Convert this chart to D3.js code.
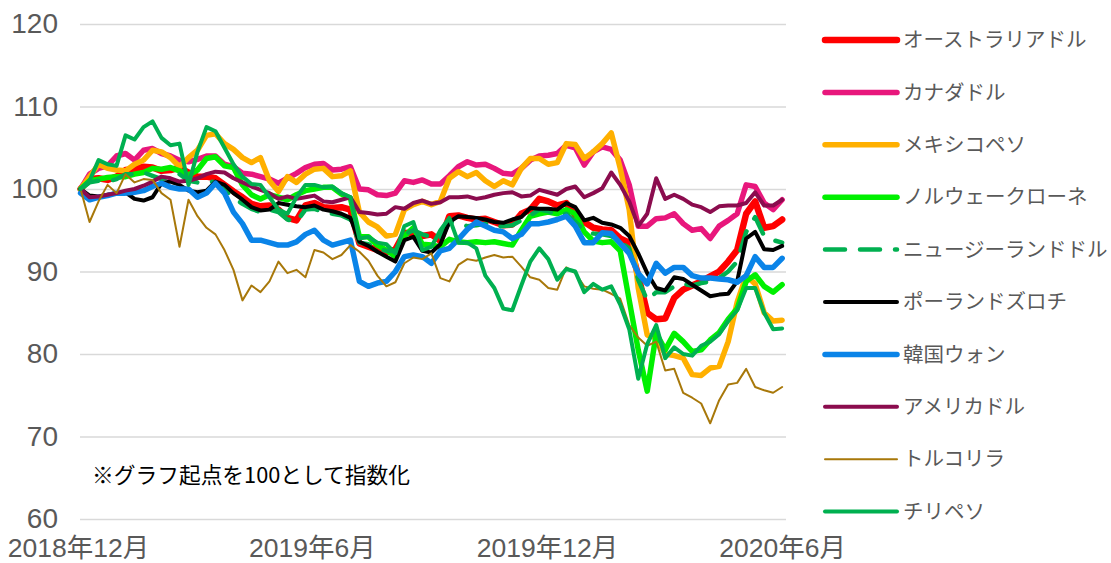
<!DOCTYPE html>
<html>
<head>
<meta charset="utf-8">
<script src="https://cdn.jsdelivr.net/npm/d3@7"></script>
<style>
  body { margin: 0; background: #fff; }
  svg { display: block; }
</style>
</head>
<body>
<svg id="chart" width="1111" height="563"></svg>
<script>
// weekly observations, starting 2018-12-03
var startDate = new Date(2018, 11, 3);
var nWeeks = 79;

// series values (index, start = 100)
var aud = [100,101.2,101.3,101.1,101.5,102.3,102.4,102.7,102.6,102.2,102.3,102.6,102,101.5,101.5,101.3,100.5,99.7,99,98.2,
  97.9,98,97.5,96.5,96.2,98,98.3,97.8,97.7,97.8,97.5,93.4,93,92.6,92.3,92.7,94.7,94.6,94.3,94.5,
  93.7,96.7,96.8,96.5,96.3,96.4,96,95.6,95.7,97,97.5,98.8,98.5,98,98.3,96.8,96,95.3,95.1,95,
  94,93.5,89.5,85,84.2,84.3,86.8,87.8,88.3,88.8,89.4,90,91.2,92.6,97,98.5,95.3,95.5,96.3];
var cad = [100,101.8,102.5,102.8,104,104.3,103.5,104.7,104.9,104.3,104,103.5,103.3,103.6,104,104,103,102.7,101.9,101.8,
  101.5,101.2,100.7,101.3,101.9,102.6,103,103.1,102.3,102.4,102.7,100,99.9,99.3,99.2,99.5,101,100.8,101.1,100.6,
  100.6,101.6,102.7,103.3,102.9,103,102.5,101.9,101.8,102.5,103.5,104,104.1,104.3,105.3,105,102.9,104.5,105.1,104.8,
  103.5,100.5,95.5,95.5,96.4,96.5,97,95.8,95,95.2,94,95.5,96.2,97,100.5,100.3,98.3,97.5,98.7];
var mxn = [100,101.5,103,102.5,102.3,102.2,103,103.5,104.7,104.5,103.8,102.7,103.8,104.7,106.5,106.7,105.5,104.8,103.8,103.2,
  103.8,101,99.7,101.5,100.8,101.8,102.4,102.5,101.5,101.6,102.2,97.2,96,95.4,94.3,94.5,97.5,98.1,98.5,98.1,
  98.5,101.3,102.1,101.5,102,101,100.3,101,100.5,102.5,103.7,103.7,103,103.2,105.5,105.4,103.7,104.5,105.5,106.8,
  102.5,97.5,88,82.3,82,80,79.8,79.5,77.5,77.4,78.3,78.5,81.5,86.3,89.5,88.5,85,84,84.1];
var nok = [100,101,101.2,101.4,101.5,101.5,101.8,102,102.5,102.4,102.6,102.2,101.7,102.3,103.7,103.9,102.8,102.6,100.5,99.3,
  98.8,99.3,99,98.7,99.3,99.8,100,100.2,100.2,99.4,98.9,94.2,94.2,93.2,92.6,91.8,94.3,95.3,93.3,93.2,
  93,93.9,93.6,93.5,93.6,93.5,93.6,93.4,93.2,95,96.7,97,97.2,97,97.5,97,94.8,93.7,93.5,93.6,
  92.5,86.5,80.5,75.5,82.5,80.5,82.5,81.5,80.3,80.5,81.7,82.6,84.2,85.5,88.8,89.6,88.2,87.5,88.4];
var nzd = [100,100.8,101,100.9,101.2,101.8,101.8,102,101.6,101.2,101.5,101.8,101,100.8,101,100.8,100,99,98.2,97.6,
  97.2,97.5,97.2,96.3,96,97.5,97.6,97.2,97,96.8,96.3,93.5,93.3,92.8,92.5,92.5,94.5,95,94.5,94.2,
  94,96,95.8,95.5,95.6,95.8,95.4,95.5,95.6,96.2,96.8,97.5,97.3,96.8,97,96,95,94.6,94.5,94.3,
  93.6,92.8,89,86.5,87.5,87.5,88.2,88.5,88.3,88.6,88.8,89.2,90,91.2,94.8,96.6,94.3,93.8,93.5];
var pln = [100,99.2,99.1,99.3,99.5,99.6,98.8,98.6,99,100.7,100.9,100.5,99.8,99.6,99.8,100.9,100.5,99.5,98.7,97.8,
  97.4,97.5,98.3,98.1,97.9,97.8,98,97.5,97.3,97,96.5,93.6,93.1,92.4,91.8,91.2,93.8,94.2,92.5,92.3,
  93.3,96,96.7,96.6,96.5,96.3,96,95.9,96.3,96.6,97.7,97.6,97.6,97.5,98.3,97.8,96.2,96.5,95.9,95.7,
  95.3,94.3,92.2,89.8,88,87.7,89.3,89.1,88.4,87.7,87,87.2,87.3,88.8,94,94.8,92.7,92.6,93.1];
var krw = [99.5,98.7,99,99.2,99.5,99.5,99.6,99.8,100.3,100.7,100.2,100,100,99,99.5,100.7,99.5,97.2,95.8,93.8,
  93.8,93.5,93.2,93.2,93.6,94.5,95,93.8,93.2,93.5,93.8,88.8,88.2,88.6,88.8,90,91.8,92,91.8,91,
  92.5,92.8,93.9,95.1,96,95.5,95,94.8,94,94.5,95.8,95.8,96,96.3,96.7,95.5,93.5,93.5,94.7,94.6,
  93.4,92.2,89.8,88.5,91,89.8,90.5,90.5,89.5,89.2,89.2,89.1,89,88.7,89.5,91.8,90.5,90.5,91.6];
var usd = [100,99,99.1,99.3,99.5,99.8,100,100.4,100.9,101.5,101.3,100.9,101,101.3,101.8,102.1,102,101.3,100.8,100.3,
  99.9,99.5,98.8,99.1,98.8,99,99.2,98.5,98.4,98.7,99,97.2,97.1,96.9,97,97.8,97.6,98.3,98.6,98.2,
  98.4,99,99,99.1,98.8,99,99.3,99.5,99.6,99.1,99.2,99.9,99.6,99.3,100,100.3,99,99.5,100.1,102,
  100.5,98.5,95.5,97,101.3,98.8,99.3,98.8,98.1,97.8,97.2,97.9,98,98,98.3,99.6,98,98,98.7];
var tryl = [100,96,98.5,100.5,99.5,101.8,100.8,101.2,101.1,99.5,98.7,93,98.7,96.7,95.3,94.5,92.6,90.2,86.5,88.3,
  87.5,88.8,91.2,89.8,90.2,89.3,92.6,92.3,91.5,92,93.2,92.4,91.3,89.5,88.2,88.7,91,91.7,91.5,92.2,
  89.2,88.8,90.8,91.5,91.3,91.7,92,91.7,91.8,90.6,89.3,89,88,87.8,90.5,89.8,88.2,87.9,87.8,87.3,
  86.7,83.5,82,81,81.5,78,78.2,75.3,74.7,74,71.6,74.4,76.3,76.5,78.2,76,75.6,75.3,76];
var clp = [100,101,103.5,103,102.8,106.5,106,107.5,108.2,106.2,105.3,105.5,100.5,104.5,107.5,107,105,103,101.5,100.6,
  100.5,99,97.5,97,99,100.5,100.5,100.2,100.3,99.5,99,94,94.2,93.5,93.3,92.2,95.5,96,92.6,93,
  95,96.5,93.5,93.5,92.8,89.5,88,85.5,85.3,88.3,91.2,92.8,91.5,89,90.3,90,87.5,88.5,87.8,88.2,
  86,83,77,81.2,83.5,79.5,80.8,80,79.8,81,81.5,82.4,84,85.3,88,88,85,83,83.1];

var seriesNames = ['オーストラリアドル','カナダドル','メキシコペソ','ノルウェークローネ','ニュージーランドドル',
  'ポーランドズロチ','韓国ウォン','アメリカドル','トルコリラ','チリペソ'];
var seriesValues = [aud, cad, mxn, nok, nzd, pln, krw, usd, tryl, clp];

// axis ticks
var yTicks = [60, 70, 80, 90, 100, 110, 120];
var xTickDates = [new Date(2018, 11, 1), new Date(2019, 5, 1), new Date(2019, 11, 1), new Date(2020, 5, 1)];
var xTickLabels = ['2018年12月', '2019年6月', '2019年12月', '2020年6月'];
var noteText = '※グラフ起点を100として指数化';

// styles
var colors = ['#ff0000','#e8177c','#ffb000','#00f000','#00b050','#000000','#0a84e8','#8b0c4e','#a8780a','#00b050'];
var widths = [6.5, 5.5, 5.5, 5.5, 4.5, 4, 5.5, 4, 2, 4];
var dashes = [null, null, null, null, '20,15', null, null, null, null, null];

var svg = d3.select('#chart');
var plot = { left: 80, right: 786, top: 24, bottom: 519 };

var dates = d3.range(nWeeks).map(i => d3.timeDay.offset(startDate, 7 * i));

var xScale = d3.scaleTime()
    .domain([new Date(2018, 11, 1), new Date(2020, 5, 4)])
    .range([78, plot.right]);
var yScale = d3.scaleLinear()
    .domain([60, 120])
    .range([plot.bottom, plot.top]);

// y axis + gridlines
var yAxis = svg.append('g')
    .attr('transform', `translate(${plot.left},0)`)
    .call(d3.axisLeft(yScale)
        .tickValues(yTicks)
        .tickSize(-(plot.right - plot.left))
        .tickPadding(22));
yAxis.select('.domain').remove();
yAxis.selectAll('.tick line')
    .attr('stroke', '#d9d9d9')
    .attr('stroke-width', 1.5);
yAxis.selectAll('.tick text')
    .attr('fill', '#595959')
    .style('font-family', '"Liberation Sans", Arial, sans-serif')
    .style('font-size', '28px');

// x axis labels
var xAxis = svg.append('g')
    .attr('transform', `translate(0,${plot.bottom})`)
    .call(d3.axisBottom(xScale)
        .tickValues(xTickDates)
        .tickFormat((d, i) => xTickLabels[i])
        .tickSize(0)
        .tickPadding(19));
xAxis.select('.domain').remove();
xAxis.selectAll('.tick text')
    .attr('fill', '#595959')
    .style('font-family', '"Liberation Sans", "Noto Sans CJK JP", sans-serif')
    .style('font-size', '26.5px');

// lines
var line = d3.line()
    .x((d, i) => xScale(dates[i]))
    .y(d => yScale(d));

svg.append('g').selectAll('path')
    .data(seriesValues)
    .enter().append('path')
    .attr('d', d => line(d))
    .attr('fill', 'none')
    .attr('stroke', (d, i) => colors[i])
    .attr('stroke-width', (d, i) => widths[i])
    .attr('stroke-dasharray', (d, i) => dashes[i])
    .attr('stroke-linejoin', 'round')
    .attr('stroke-linecap', 'round');

// note
svg.append('text')
    .attr('x', 92)
    .attr('y', 483)
    .attr('fill', '#000')
    .attr('textLength', 318)
    .attr('lengthAdjust', 'spacingAndGlyphs')
    .style('font-family', '"Noto Sans CJK JP", sans-serif')
    .style('font-size', '22px')
    .text(noteText);

// legend
var legend = svg.append('g')
    .attr('transform', 'translate(825,40)')
    .selectAll('g')
    .data(seriesNames)
    .enter().append('g')
    .attr('transform', (d, i) => `translate(0,${i * 52.4})`);
legend.append('line')
    .attr('x1', 0).attr('x2', 72)
    .attr('stroke', (d, i) => colors[i])
    .attr('stroke-width', (d, i) => widths[i])
    .attr('stroke-dasharray', (d, i) => dashes[i])
    .attr('stroke-linecap', 'round');
legend.append('text')
    .attr('x', 78)
    .attr('dy', '0.35em')
    .attr('fill', '#595959')
    .style('font-family', '"Noto Sans CJK JP", sans-serif')
    .style('font-size', '20.5px')
    .text(d => d);
</script>
</body>
</html>
